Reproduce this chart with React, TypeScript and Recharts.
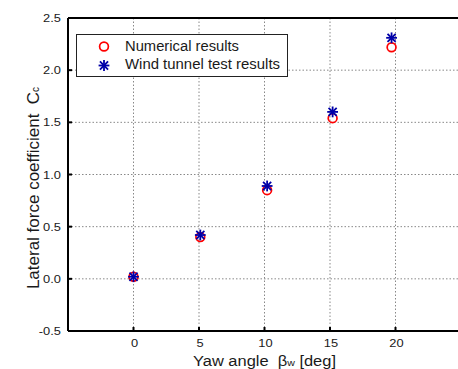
import React from 'react';
import { ScatterChart, Scatter, XAxis, YAxis, ReferenceLine, Label } from 'recharts';

const yawAngles = [0, 5.1, 10.2, 15.2, 19.7];
const numericalResults = [0.02, 0.40, 0.85, 1.54, 2.22];
const windTunnelResults = [0.02, 0.42, 0.89, 1.60, 2.31];
const xTicks = [0, 5, 10, 15, 20];
const yTicks = [-0.5, 0, 0.5, 1.0, 1.5, 2.0, 2.5];
const xGridValues = [0, 5, 10, 15, 20];
const yGridValues = [0, 0.5, 1.0, 1.5, 2.0];
const xDomain = [-5, 25];
const yDomain = [-0.5, 2.5];
const seriesNames = ['Numerical results', 'Wind tunnel test results'];

const numData = yawAngles.map((x, i) => ({ x, y: numericalResults[i] }));
const windData = yawAngles.map((x, i) => ({ x, y: windTunnelResults[i] }));

const FONT = '"Liberation Sans", Arial, sans-serif';
const RED = '#ff0000';
const BLUE = '#0000a8';
const TEXT = '#1a1a1a';

const CircleMarker = (props: any) => {
  const { cx, cy } = props;
  if (cx == null || cy == null) return null;
  return <circle cx={cx} cy={cy} r={4.4} fill="none" stroke={RED} strokeWidth={1.7} />;
};

const StarMarker = (props: any) => {
  const { cx, cy } = props;
  if (cx == null || cy == null) return null;
  const r = 5.4;
  const d = r * 0.75;
  return (
    <g stroke={BLUE} strokeWidth={1.8}>
      <line x1={cx - r} y1={cy} x2={cx + r} y2={cy} />
      <line x1={cx} y1={cy - r} x2={cx} y2={cy + r} />
      <line x1={cx - d} y1={cy - d} x2={cx + d} y2={cy + d} />
      <line x1={cx - d} y1={cy + d} x2={cx + d} y2={cy - d} />
    </g>
  );
};

const XTick = (props: any) => {
  const { x, y, payload } = props;
  return (
    <text
      transform={`translate(${x + 1},${y + 11}) scale(1.17,1)`}
      textAnchor="middle"
      fontFamily={FONT}
      fontSize={11}
      fill={TEXT}
    >
      {payload.value}
    </text>
  );
};

const YTick = (props: any) => {
  const { x, y, payload } = props;
  return (
    <text
      transform={`translate(${x},${y + 4}) scale(1.17,1)`}
      textAnchor="end"
      fontFamily={FONT}
      fontSize={11}
      fill={TEXT}
    >
      {Number(payload.value).toFixed(1)}
    </text>
  );
};

const renderXLabel = () => (
  <text
    x={193}
    y={366}
    fontFamily={FONT}
    fontSize={14}
    fill={TEXT}
    textLength={143}
    lengthAdjust="spacingAndGlyphs"
    style={{ whiteSpace: 'pre' }}
  >
    <tspan>{'Yaw angle  β'}</tspan>
    <tspan fontSize={9}>w</tspan>
    <tspan>{' [deg]'}</tspan>
  </text>
);

const renderYLabel = () => (
  <text
    x={0}
    y={0}
    transform="translate(39,188) rotate(-90)"
    textAnchor="middle"
    fontFamily={FONT}
    fontSize={17}
    fill={TEXT}
    style={{ whiteSpace: 'pre' }}
  >
    <tspan>{'Lateral force coefficient  C'}</tspan>
    <tspan fontSize={10}>c</tspan>
  </text>
);

export default function App() {
  return (
    <div style={{ position: 'absolute', left: 0, top: 0, width: 458, height: 369, overflow: 'hidden', background: '#fff' }}>
      <ScatterChart width={470} height={369} margin={{ top: 0, right: 9, bottom: 0, left: 0 }}>
        {xGridValues.map((v) => (
          <ReferenceLine key={'gx' + v} x={v} stroke="#888" strokeDasharray="1.5 2" strokeWidth={1} ifOverflow="visible" />
        ))}
        {yGridValues.map((v) => (
          <ReferenceLine key={'gy' + v} y={v} stroke="#888" strokeDasharray="1.5 2" strokeWidth={1} ifOverflow="visible" />
        ))}
        <ReferenceLine y={yDomain[0]} stroke="#000" strokeWidth={2} ifOverflow="visible" />
        <ReferenceLine y={yDomain[1]} stroke="#000" strokeWidth={2} ifOverflow="visible" />
        <ReferenceLine x={xDomain[0]} stroke="#000" strokeWidth={2} ifOverflow="visible" />
        <ReferenceLine x={xDomain[1]} stroke="#000" strokeWidth={2} ifOverflow="visible" />
        <XAxis
          dataKey="x"
          type="number"
          domain={xDomain}
          ticks={xTicks}
          allowDataOverflow
          height={38}
          stroke="#000"
          tick={<XTick />}
          tickSize={-4}
          tickMargin={9}
          axisLine={{ stroke: '#000', strokeWidth: 2 }}
          tickLine={{ stroke: '#000', strokeWidth: 2 }}
        >
          <Label content={renderXLabel} />
        </XAxis>
        <XAxis
          xAxisId="top"
          orientation="top"
          dataKey="x"
          type="number"
          domain={xDomain}
          ticks={xTicks}
          allowDataOverflow
          height={18}
          stroke="#000"
          tick={false}
          tickSize={-4}
          axisLine={{ stroke: '#000', strokeWidth: 2 }}
          tickLine={{ stroke: '#000', strokeWidth: 2 }}
        />
        <YAxis
          dataKey="y"
          type="number"
          domain={yDomain}
          ticks={yTicks}
          allowDataOverflow
          width={68}
          stroke="#000"
          tick={<YTick />}
          tickSize={-4}
          tickMargin={11}
          axisLine={{ stroke: '#000', strokeWidth: 2 }}
          tickLine={{ stroke: '#000', strokeWidth: 2 }}
        >
          <Label content={renderYLabel} />
        </YAxis>
        <Scatter name={seriesNames[0]} data={numData} shape={<CircleMarker />} isAnimationActive={false} />
        <Scatter name={seriesNames[1]} data={windData} shape={<StarMarker />} isAnimationActive={false} />
      </ScatterChart>
      <svg width={212} height={43} style={{ position: 'absolute', left: 76, top: 34 }}>
        <rect x={0.5} y={0.5} width={211} height={42} fill="#fff" stroke="#222" strokeWidth={1} />
        <CircleMarker cx={28} cy={12.5} />
        <StarMarker cx={28} cy={31.5} />
        <text x={49} y={16.7} fontFamily={FONT} fontSize={14} fill={TEXT} textLength={114} lengthAdjust="spacingAndGlyphs">
          {seriesNames[0]}
        </text>
        <text x={49} y={35.3} fontFamily={FONT} fontSize={14} fill={TEXT} textLength={155} lengthAdjust="spacingAndGlyphs">
          {seriesNames[1]}
        </text>
      </svg>
    </div>
  );
}
